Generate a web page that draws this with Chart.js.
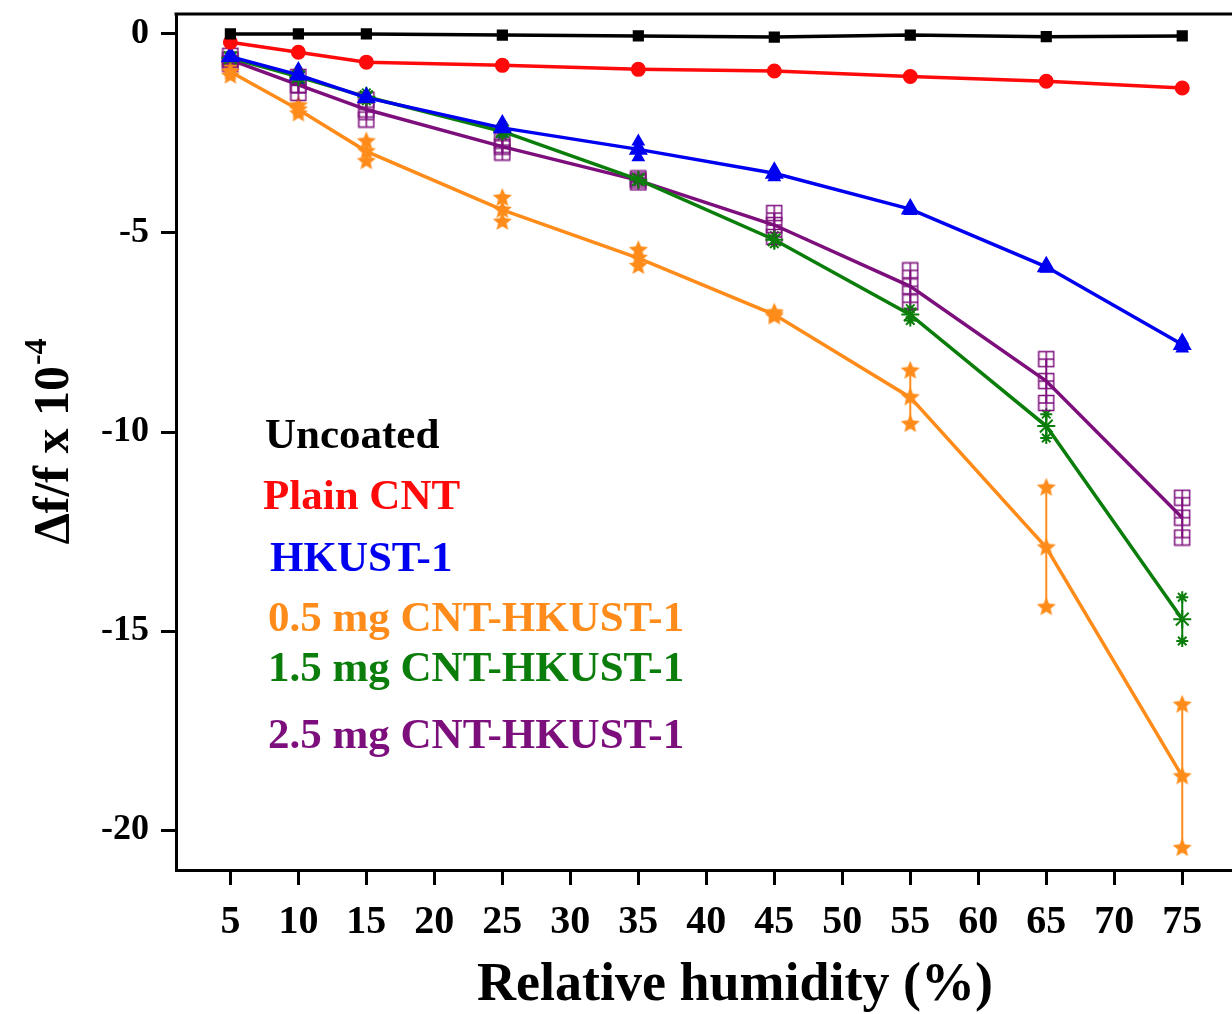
<!DOCTYPE html>
<html>
<head>
<meta charset="utf-8">
<script src="https://cdn.jsdelivr.net/npm/chart.js@4.4.1/dist/chart.umd.min.js"></script>
<style>
  html, body { margin: 0; padding: 0; background: #fff; }
  #wrap { width: 1232px; height: 1014px; }
</style>
</head>
<body>
<div id="wrap"><canvas id="rhChart" width="1232" height="1014"></canvas></div>
<script>
/* humidity response */
var RH = [5, 10, 15, 25, 35, 45, 55, 65, 75];
var X_TICKS = [5, 10, 15, 20, 25, 30, 35, 40, 45, 50, 55, 60, 65, 70, 75];
var Y_TICKS = [0, -5, -10, -15, -20];

var UNCOATED  = [0, 0, 0, -0.03, -0.05, -0.08, -0.03, -0.07, -0.05];
var PLAIN_CNT = [-0.21, -0.46, -0.71, -0.79, -0.89, -0.93, -1.07, -1.19, -1.36];
var HKUST     = [-0.57, -1.03, -1.6, -2.36, -2.9, -3.5, -4.4, -5.85, -7.8];
var CNT_05    = [-0.95, -1.9, -2.95, -4.42, -5.63, -7.05, -9.13, -12.9, -18.65];
var CNT_15    = [-0.6, -1.08, -1.58, -2.45, -3.66, -5.17, -7.05, -9.85, -14.7];
var CNT_25    = [-0.65, -1.28, -1.9, -2.83, -3.68, -4.8, -6.34, -8.72, -12.15];

var ERR_HKUST = [0.05, 0.15, 0.05, 0.15, 0.2, 0.1, 0.05, 0.05, 0.1];
var ERR_05    = [0.1, 0.1, 0.25, 0.3, 0.2, 0.05, 0.67, 1.5, 1.8];
var ERR_15    = [0.05, 0.1, 0.1, 0.1, 0.05, 0.1, 0.15, 0.3, 0.55];
var ERR_25    = [0.1, 0.2, 0.25, 0.15, 0.05, 0.3, 0.4, 0.55, 0.5];

var LABELS = ["Uncoated", "Plain CNT", "HKUST-1", "0.5 mg CNT-HKUST-1", "1.5 mg CNT-HKUST-1", "2.5 mg CNT-HKUST-1"];

var COL = {
  black: "#000000", red: "#ff0a0a", blue: "#0000f0",
  orange: "#ff8c1a", green: "#0a7d0a", purple: "#7d0f7d"
};
var SERIF = "'Liberation Serif', 'Times New Roman', serif";

/* small custom markers */
function starMarker(color, r) {
  var c = document.createElement("canvas");
  c.width = c.height = r * 2 + 2;
  var g = c.getContext("2d");
  g.fillStyle = color;
  g.beginPath();
  for (var i = 0; i < 10; i++) {
    var rad = i % 2 === 0 ? r : r * 0.45;
    var a = -Math.PI / 2 + i * Math.PI / 5;
    g.lineTo(r + 1 + rad * Math.cos(a), r + 1 + rad * Math.sin(a));
  }
  g.closePath();
  g.fill();
  return c;
}
function boxMarker(color, r) {
  var c = document.createElement("canvas");
  c.width = c.height = r * 2 + 2;
  var g = c.getContext("2d");
  g.strokeStyle = color;
  g.lineWidth = 1.5;
  g.strokeRect(1.5, 1.5, r * 2 - 1, r * 2 - 1);
  g.beginPath();
  g.moveTo(r + 1, 1); g.lineTo(r + 1, r * 2 + 1);
  g.moveTo(1, r + 1); g.lineTo(r * 2 + 1, r + 1);
  g.stroke();
  return c;
}

function series(label, data, color, style, radius, err) {
  return {
    label: label,
    data: data.map(function (v, i) { return { x: RH[i], y: v }; }),
    err: err,
    borderColor: color,
    backgroundColor: color,
    pointBackgroundColor: color,
    pointBorderColor: color,
    borderWidth: 3.5,
    pointBorderWidth: 2,
    pointStyle: style,
    pointRadius: radius,
    tension: 0
  };
}

/* error bars, frame, legend text, axis titles */
var decorPlugin = {
  id: "decor",
  beforeDatasetsDraw: function (chart) {
    var ctx = chart.ctx, ys = chart.scales.y, xs = chart.scales.x;
    chart.data.datasets.forEach(function (ds) {
      if (!ds.err) return;
      ctx.save();
      ctx.strokeStyle = ds.borderColor;
      ctx.fillStyle = ds.borderColor;
      ctx.lineWidth = 2;
      ds.data.forEach(function (p, i) {
        var e = ds.err[i];
        if (!e) return;
        var px = xs.getPixelForValue(p.x);
        var y1 = ys.getPixelForValue(p.y + e), y2 = ys.getPixelForValue(p.y - e);
        ctx.beginPath();
        ctx.moveTo(px, y1); ctx.lineTo(px, y2);
        ctx.stroke();
        [y1, y2].forEach(function (yy) {
          Chart.helpers.drawPoint(ctx, {
            pointStyle: ds.pointStyle, radius: 6, rotation: 0,
            borderWidth: 1.5
          }, px, yy);
        });
      });
      ctx.restore();
    });
  },
  afterDraw: function (chart) {
    var ctx = chart.ctx, a = chart.chartArea;
    ctx.save();
    ctx.strokeStyle = "#000";
    ctx.lineWidth = 3;
    ctx.beginPath();
    ctx.moveTo(a.left - 1.5, a.top);
    ctx.lineTo(chart.width, a.top);
    // frame runs off the right edge of the figure
    var yb = Math.round(a.bottom - 1.5) + 1.5;
    ctx.moveTo(a.right - 4, yb);
    ctx.lineTo(chart.width, yb);
    ctx.stroke();

    // legend text
    var rows = [
      [LABELS[0], COL.black, 265, 437],
      [LABELS[1], COL.red, 263, 498],
      [LABELS[2], COL.blue, 270, 560],
      [LABELS[3], COL.orange, 268, 620],
      [LABELS[4], COL.green, 268, 670],
      [LABELS[5], COL.purple, 268, 737]
    ];
    ctx.font = "bold 43px " + SERIF;
    ctx.textBaseline = "middle";
    ctx.textAlign = "left";
    rows.forEach(function (r) {
      ctx.fillStyle = r[1];
      ctx.fillText(r[0], r[2], r[3]);
    });

    // x title
    ctx.fillStyle = "#000";
    ctx.font = "bold 54px " + SERIF;
    ctx.textAlign = "center";
    ctx.textBaseline = "alphabetic";
    ctx.fillText("Relative humidity (%)", 735, 1000);

    // y title, rotated, with superscript
    ctx.translate(68, 442);
    ctx.rotate(-Math.PI / 2);
    var main = "\u0394f/f x 10", sup = "-4";
    ctx.font = "bold 50px " + SERIF;
    var wm = ctx.measureText(main).width;
    ctx.font = "bold 32px " + SERIF;
    var wsup = ctx.measureText(sup).width;
    var x0 = -(wm + wsup) / 2;
    ctx.textAlign = "left";
    ctx.font = "bold 50px " + SERIF;
    ctx.fillText(main, x0, 0);
    ctx.font = "bold 32px " + SERIF;
    ctx.fillText(sup, x0 + wm + 1, -22);
    ctx.restore();
  }
};

new Chart(document.getElementById("rhChart"), {
  type: "line",
  data: {
    datasets: [
      series(LABELS[0], UNCOATED, COL.black, "rect", 6.5, null),
      series(LABELS[1], PLAIN_CNT, COL.red, "circle", 6.5, null),
      series(LABELS[2], HKUST, COL.blue, "triangle", 9, ERR_HKUST),
      series(LABELS[3], CNT_05, COL.orange, starMarker(COL.orange, 10), 9, ERR_05),
      series(LABELS[4], CNT_15, COL.green, "star", 9, ERR_15),
      series(LABELS[5], CNT_25, COL.purple, boxMarker(COL.purple, 8), 8, ERR_25)
    ]
  },
  options: {
    responsive: false,
    animation: false,
    layout: { padding: { top: 14, right: 0, left: 0, bottom: 0 } },
    plugins: {
      legend: { display: false },
      tooltip: { enabled: false }
    },
    scales: {
      x: {
        type: "linear",
        min: 1, max: 77.85,
        afterBuildTicks: function (s) { s.ticks = X_TICKS.map(function (v) { return { value: v }; }); },
        afterFit: function (s) { s.height = 144; s.paddingLeft = 0; s.paddingRight = 0; },
        border: { color: "#000", width: 3 },
        grid: { drawOnChartArea: false, drawTicks: true, tickLength: 15, tickWidth: 3, tickColor: "#000" },
        ticks: {
          color: "#000", padding: 14, maxRotation: 0, autoSkip: false,
          font: { family: SERIF, size: 40, weight: "bold" }
        }
      },
      y: {
        min: -21, max: 0.5,
        afterBuildTicks: function (s) { s.ticks = Y_TICKS.map(function (v) { return { value: v }; }); },
        afterFit: function (s) { s.width = 176; s.paddingTop = 0; s.paddingBottom = 0; },
        border: { color: "#000", width: 3 },
        grid: { drawOnChartArea: false, drawTicks: true, tickLength: 15, tickWidth: 3, tickColor: "#000" },
        ticks: {
          color: "#000", padding: 12,
          font: { family: SERIF, size: 36, weight: "bold" }
        }
      }
    }
  },
  plugins: [decorPlugin]
});
</script>
</body>
</html>
